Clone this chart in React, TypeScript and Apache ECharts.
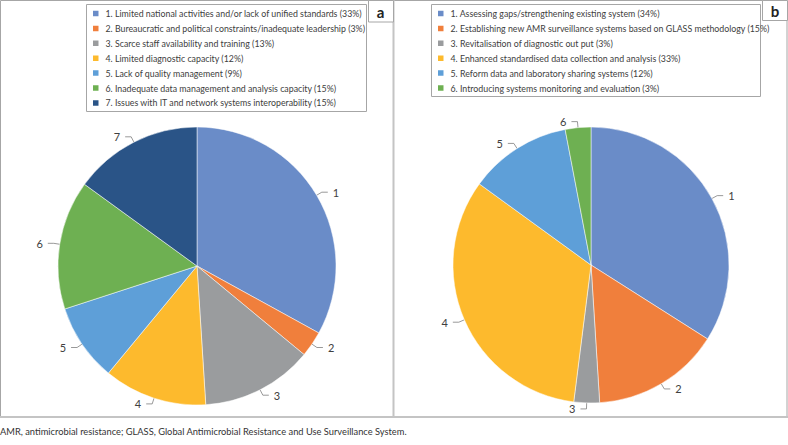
import React, { useEffect, useRef } from "react";
import * as echarts from "echarts";

const colors = ["#6A8CC8", "#F07F3C", "#9A9C9E", "#FDBA2D", "#5E9FD8", "#6EB052", "#2A5487"];

const namesA = [
  "1. Limited national activities and/or lack of unified standards (33%)",
  "2. Bureaucratic and political constraints/inadequate leadership (3%)",
  "3. Scarce staff availability and training (13%)",
  "4. Limited diagnostic capacity (12%)",
  "5. Lack of quality management (9%)",
  "6. Inadequate data management and analysis capacity (15%)",
  "7. Issues with IT and network systems interoperability (15%)",
];
const valuesA = [33, 3, 13, 12, 9, 15, 15];

const namesB = [
  "1. Assessing gaps/strengthening existing system (34%)",
  "2. Establishing new AMR surveillance systems based on GLASS methodology (15%)",
  "3. Revitalisation of diagnostic out put (3%)",
  "4. Enhanced standardised data collection and analysis (33%)",
  "5. Reform data and laboratory sharing systems (12%)",
  "6. Introducing systems monitoring and evaluation (3%)",
];
const valuesB = [34, 15, 3, 33, 12, 3];

const footnote =
  "AMR, antimicrobial resistance; GLASS, Global Antimicrobial Resistance and Use Surveillance System.";

const FONT = "Lato, 'Noto Sans', sans-serif";

export default function App() {
  const ref = useRef<HTMLDivElement>(null);
  useEffect(() => {
    document.body.style.margin = "0";
    const chart = echarts.init(ref.current!, null, { renderer: "svg" });
    const pieSeries = (names: string[], values: number[], center: number[], radius: number) => ({
      type: "pie",
      center,
      radius,
      startAngle: 90,
      clockwise: true,
      data: names.map((n, i) => ({ name: n, value: values[i], itemStyle: { color: colors[i] } })),
      itemStyle: { borderColor: "#ffffff", borderWidth: 0.5 },
      label: {
        show: true,
        position: "outside",
        formatter: (p: any) => String(p.dataIndex + 1),
        fontFamily: FONT,
        fontSize: 11,
        color: "#404040",
      },
      labelLine: { show: true, length: 6, length2: 6, lineStyle: { color: "#7f7f7f", width: 0.8 } },
      emphasis: { disabled: true },
      silent: true,
    });
    const legend = (names: string[], left: number) => ({
      data: names,
      orient: "vertical",
      left,
      top: 8,
      padding: 0,
      itemWidth: 7.5,
      itemHeight: 7.5,
      itemGap: 3.9,
      icon: "rect",
      selectedMode: false,
      textStyle: { fontFamily: FONT, fontSize: 8.8, color: "#404040", lineHeight: 11, padding: [0, 0, 0, 1] },
    });
    chart.setOption({
      animation: false,
      backgroundColor: "#ffffff",
      legend: [legend(namesA, 91), legend(namesB, 436)],
      series: [
        pieSeries(namesA, valuesA, [197, 266], 139),
        pieSeries(namesB, valuesB, [591, 265], 138),
      ],
      graphic: [
        { type: "rect", shape: { x: 0.5, y: 0.5, width: 786.5, height: 416.5 }, style: { fill: "none", stroke: "#A6A6A6", lineWidth: 1 } },
        { type: "line", shape: { x1: 393.5, y1: 0, x2: 393.5, y2: 417 }, style: { stroke: "#C4C4C4", lineWidth: 2 } },
        { type: "line", shape: { x1: 0, y1: 417, x2: 788, y2: 417 }, style: { stroke: "#C4C4C4", lineWidth: 2 } },
        { type: "rect", shape: { x: 86.5, y: 4.5, width: 280, height: 107 }, style: { fill: "none", stroke: "#A6A6A6", lineWidth: 1 } },
        { type: "rect", shape: { x: 431.5, y: 4.5, width: 329, height: 92 }, style: { fill: "none", stroke: "#A6A6A6", lineWidth: 1 } },
        { type: "rect", shape: { x: 368.5, y: 0.5, width: 25, height: 21.5 }, style: { fill: "#ffffff", stroke: "#A6A6A6", lineWidth: 1 } },
        { type: "rect", shape: { x: 762.5, y: 0.5, width: 25, height: 20 }, style: { fill: "#ffffff", stroke: "#A6A6A6", lineWidth: 1 } },
        { type: "text", x: 380.5, y: 11.5, style: { text: "a", fontFamily: FONT, fontSize: 15, fontWeight: "bold", fill: "#222", align: "center", verticalAlign: "middle" } },
        { type: "text", x: 775, y: 10.5, style: { text: "b", fontFamily: FONT, fontSize: 15, fontWeight: "bold", fill: "#222", align: "center", verticalAlign: "middle" } },
        { type: "text", x: 0, y: 431, style: { text: footnote, fontFamily: FONT, fontSize: 9.3, fill: "#333", verticalAlign: "middle" } },
      ],
    });
    return () => chart.dispose();
  }, []);
  return <div ref={ref} style={{ width: 788, height: 445 }} />;
}
